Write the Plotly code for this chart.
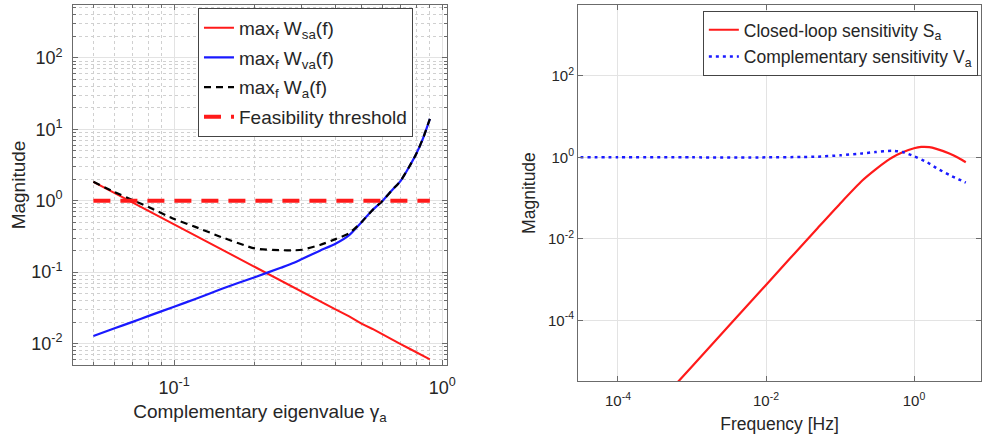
import plotly.graph_objects as go

# ---------------- Left panel data ----------------
gamma = [0.05, 0.06, 0.07, 0.08, 0.10, 0.12, 0.15, 0.20, 0.25, 0.28, 0.30, 0.35,
         0.40, 0.45, 0.50, 0.55, 0.60, 0.65, 0.70, 0.75, 0.80, 0.85, 0.90]
w_sa = [1.84, 1.28, 0.94, 0.72, 0.47, 0.33, 0.21, 0.118, 0.076, 0.061, 0.053, 0.039,
        0.030, 0.024, 0.019, 0.016, 0.0133, 0.0114, 0.0098, 0.0086, 0.0076, 0.0067, 0.0060]
w_va = [0.0128, 0.0164, 0.0201, 0.0242, 0.0328, 0.042, 0.058, 0.085, 0.115, 0.135, 0.153, 0.20,
        0.25, 0.33, 0.50, 0.74, 1.0, 1.40, 1.90, 2.9, 4.5, 7.6, 14.0]
w_a = [1.84, 1.32, 1.02, 0.82, 0.555, 0.43, 0.31, 0.215, 0.203, 0.202, 0.206, 0.24,
       0.29, 0.35, 0.50, 0.74, 1.0, 1.40, 1.90, 2.9, 4.5, 7.6, 14.0]
thresh_x = [0.05, 0.90]
thresh_y = [1.0, 1.0]

# ---------------- Right panel data ----------------
freq_s = [1e-4, 1e-3, 1e-2, 0.05, 0.1, 0.2, 0.3, 0.43, 0.5, 0.7, 1.0, 1.25, 1.6, 2.0, 3.0, 4.0, 5.0]
sens_s = [7.4e-8, 7.4e-6, 7.4e-4, 0.0185, 0.073, 0.27, 0.50, 0.82, 0.98, 1.33, 1.67, 1.80,
          1.78, 1.62, 1.25, 0.97, 0.76]
freq_v = [2e-5, 1e-4, 1e-3, 1e-2, 0.03, 0.05, 0.1, 0.2, 0.3, 0.5, 0.7, 1.0, 1.5, 2.0,
          3.0, 4.0, 5.0]
sens_v = [1.0, 1.0, 1.0, 1.0, 1.02, 1.04, 1.12, 1.25, 1.35, 1.45, 1.35, 1.07, 0.76, 0.55,
          0.37, 0.29, 0.24]

left_xticks = [0.1, 1]
left_xtext = ["10<sup>-1</sup>", "10<sup>0</sup>"]
left_yticks = [0.01, 0.1, 1, 10, 100]
left_ytext = ["10<sup>-2</sup>", "10<sup>-1</sup>", "10<sup>0</sup>", "10<sup>1</sup>", "10<sup>2</sup>"]
right_xticks = [1e-4, 1e-2, 1]
right_xtext = ["10<sup>-4</sup>", "10<sup>-2</sup>", "10<sup>0</sup>"]
right_yticks = [1e-4, 1e-2, 1, 100]
right_ytext = ["10<sup>-4</sup>", "10<sup>-2</sup>", "10<sup>0</sup>", "10<sup>2</sup>"]

FONT = "Liberation Sans, Arial, Helvetica, sans-serif"
AXC = "#6b6b6b"
GRID = "#e3e3e3"
MINOR = "#d0d0d0"
TXT = "#262626"

fig = go.Figure()

fig.add_trace(go.Scatter(x=gamma, y=w_sa, mode="lines", name="max<sub>f</sub> W<sub>sa</sub>(f)",
                         line=dict(color="#ff1a1a", width=2), xaxis="x", yaxis="y",
                         legend="legend", legendgroup="a1"))
fig.add_trace(go.Scatter(x=gamma, y=w_va, mode="lines", name="max<sub>f</sub> W<sub>va</sub>(f)",
                         line=dict(color="#1a1aff", width=2.2, shape="spline", smoothing=0.6),
                         xaxis="x", yaxis="y", legend="legend", legendgroup="a2"))
fig.add_trace(go.Scatter(x=gamma, y=w_a, mode="lines", name="max<sub>f</sub> W<sub>a</sub>(f)",
                         line=dict(color="black", width=2.2, dash="7px,5px", shape="spline", smoothing=0.6),
                         xaxis="x", yaxis="y", legend="legend", legendgroup="a3"))
fig.add_trace(go.Scatter(x=thresh_x, y=thresh_y, mode="lines", name="Feasibility threshold",
                         line=dict(color="#ff1a1a", width=4, dash="17px,10px"),
                         xaxis="x", yaxis="y", legend="legend", legendgroup="a4"))

fig.add_trace(go.Scatter(x=freq_s, y=sens_s, mode="lines", name="Closed-loop sensitivity S<sub>a</sub>",
                         line=dict(color="#ff1a1a", width=2.2, shape="spline", smoothing=0.7),
                         xaxis="x2", yaxis="y2", legend="legend2", legendgroup="b1"))
fig.add_trace(go.Scatter(x=freq_v, y=sens_v, mode="lines", name="Complementary sensitivity V<sub>a</sub>",
                         line=dict(color="#1a1aff", width=2.5, dash="3px,4px", shape="spline", smoothing=0.6),
                         xaxis="x2", yaxis="y2", legend="legend2", legendgroup="b2"))

minor_x_left = [d * 10 ** k for k in (-2, -1) for d in range(2, 10)]
minor_y_left = [d * 10 ** k for k in range(-3, 3) for d in range(2, 10)]

common = dict(type="log", showline=True, linecolor=AXC, linewidth=1, mirror="ticks",
              ticks="inside", ticklen=5, tickcolor=AXC, gridcolor=GRID, gridwidth=1,
              zeroline=False, tickmode="array", automargin=False)

fig.update_layout(
    width=983, height=434,
    margin=dict(l=0, r=0, t=0, b=0),
    paper_bgcolor="white", plot_bgcolor="white",
    font=dict(family=FONT, color=TXT),
    xaxis=dict(**common, domain=[0.0743, 0.4547], range=[-1.377, 0.018], anchor="y",
               tickvals=left_xticks, ticktext=left_xtext, tickfont=dict(size=18),
               ticklabelstandoff=6,
               minor=dict(tickvals=minor_x_left, ticks="inside", ticklen=3, tickcolor=AXC,
                          showgrid=True, gridcolor=MINOR, griddash="dot", gridwidth=1),
               title=dict(text="Complementary eigenvalue γ<sub>a</sub>", font=dict(size=19), standoff=8)),
    yaxis=dict(**common, domain=[0.159, 0.9885], range=[-2.30, 2.74], anchor="x",
               tickvals=left_yticks, ticktext=left_ytext, tickfont=dict(size=18),
               ticklabelstandoff=6,
               minor=dict(tickvals=minor_y_left, ticks="inside", ticklen=3, tickcolor=AXC,
                          showgrid=True, gridcolor=MINOR, griddash="dot", gridwidth=1),
               title=dict(text="Magnitude", font=dict(size=19), standoff=0)),
    xaxis2=dict(**common, domain=[0.588, 0.998], range=[-4.54, 0.905], anchor="y2",
                tickvals=right_xticks, ticktext=right_xtext, tickfont=dict(size=15),
                ticklabelstandoff=6,
                title=dict(text="Frequency [Hz]", font=dict(size=17.5), standoff=9)),
    yaxis2=dict(**common, domain=[0.122, 0.9885], range=[-5.49, 3.74], anchor="x2",
                tickvals=right_yticks, ticktext=right_ytext, tickfont=dict(size=15),
                title=dict(text="Magnitude", font=dict(size=17.5), standoff=7)),
    legend=dict(x=0.2014, y=0.982, xanchor="left", yanchor="top", bgcolor="white",
                bordercolor="#444", borderwidth=1, font=dict(size=19), tracegroupgap=2),
    legend2=dict(x=0.715, y=0.975, xanchor="left", yanchor="top", bgcolor="white",
                 bordercolor="#444", borderwidth=1, font=dict(size=17.5), tracegroupgap=1),
    showlegend=True,
)

fig.write_html("out.html", config={"displayModeBar": False},
               post_script="document.body.style.margin='0';document.body.style.overflow='hidden';")
